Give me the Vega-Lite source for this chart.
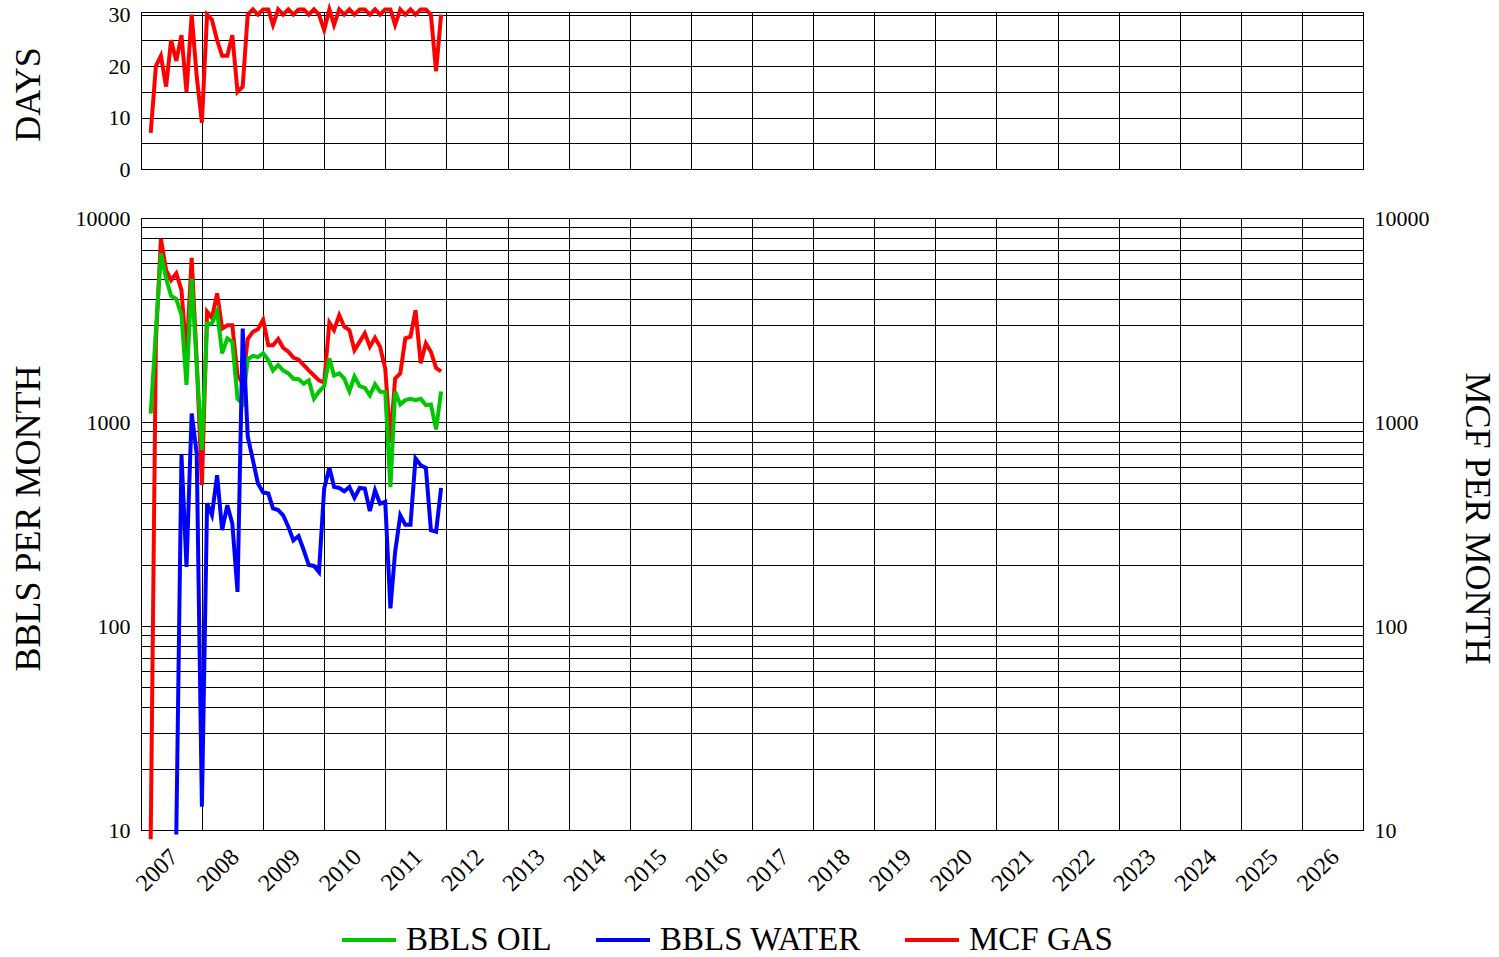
{
"$schema":"https://vega.github.io/schema/vega-lite/v6.json",
"background":"white",
"padding":{"left":9,"top":0,"right":5,"bottom":0},
"datasets":{"prod":[
{"date":"2007-02-28","days":7,"oil":1100,"gas":9},
{"date":"2007-03-31","days":20,"oil":2800,"gas":2500},
{"date":"2007-04-30","days":22,"oil":6700,"gas":7900},
{"date":"2007-05-31","days":16,"oil":5050,"gas":5550},
{"date":"2007-06-30","days":25,"oil":4150,"gas":4950},
{"date":"2007-07-31","days":21,"oil":4000,"water":9.5,"gas":5350},
{"date":"2007-08-31","days":26,"oil":3340,"water":690,"gas":4430},
{"date":"2007-09-30","days":15,"oil":1520,"water":195,"gas":2100},
{"date":"2007-10-31","days":30,"oil":5050,"water":1100,"gas":6380},
{"date":"2007-11-30","days":18,"oil":1900,"water":700,"gas":2000},
{"date":"2007-12-31","days":9,"oil":730,"water":13,"gas":490},
{"date":"2008-01-31","days":30,"oil":3040,"water":400,"gas":3470},
{"date":"2008-02-29","days":29,"oil":3040,"water":350,"gas":3240},
{"date":"2008-03-31","days":25,"oil":3490,"water":548,"gas":4270},
{"date":"2008-04-30","days":22,"oil":2170,"water":295,"gas":2870},
{"date":"2008-05-31","days":22,"oil":2570,"water":391,"gas":2980},
{"date":"2008-06-30","days":26,"oil":2470,"water":318,"gas":2980},
{"date":"2008-07-31","days":15,"oil":1300,"water":147,"gas":1690},
{"date":"2008-08-31","days":16,"oil":1230,"water":2870,"gas":1550},
{"date":"2008-09-30","days":30,"oil":2030,"water":850,"gas":2550},
{"date":"2008-10-31","days":31,"oil":2110,"water":650,"gas":2770},
{"date":"2008-11-30","days":30,"oil":2080,"water":500,"gas":2850},
{"date":"2008-12-31","days":31,"oil":2170,"water":451,"gas":3170},
{"date":"2009-01-31","days":31,"oil":2010,"water":446,"gas":2380},
{"date":"2009-02-28","days":28,"oil":1790,"water":377,"gas":2380},
{"date":"2009-03-31","days":31,"oil":1900,"water":370,"gas":2550},
{"date":"2009-04-30","days":30,"oil":1790,"water":349,"gas":2310},
{"date":"2009-05-31","days":31,"oil":1730,"water":306,"gas":2210},
{"date":"2009-06-30","days":30,"oil":1630,"water":263,"gas":2070},
{"date":"2009-07-31","days":31,"oil":1620,"water":276,"gas":2020},
{"date":"2009-08-31","days":31,"oil":1540,"water":235,"gas":1900},
{"date":"2009-09-30","days":30,"oil":1600,"water":199,"gas":1790},
{"date":"2009-10-31","days":31,"oil":1300,"water":197,"gas":1690},
{"date":"2009-11-30","days":30,"oil":1410,"water":184,"gas":1600},
{"date":"2009-12-31","days":27,"oil":1500,"water":472,"gas":1560},
{"date":"2010-01-31","days":31,"oil":2050,"water":596,"gas":3070},
{"date":"2010-02-28","days":28,"oil":1690,"water":481,"gas":2820},
{"date":"2010-03-31","days":31,"oil":1730,"water":475,"gas":3340},
{"date":"2010-04-30","days":30,"oil":1630,"water":458,"gas":2930},
{"date":"2010-05-31","days":31,"oil":1415,"water":481,"gas":2820},
{"date":"2010-06-30","days":30,"oil":1670,"water":425,"gas":2250},
{"date":"2010-07-31","days":31,"oil":1500,"water":475,"gas":2470},
{"date":"2010-08-31","days":31,"oil":1470,"water":472,"gas":2720},
{"date":"2010-09-30","days":30,"oil":1350,"water":366,"gas":2340},
{"date":"2010-10-31","days":31,"oil":1530,"water":463,"gas":2590},
{"date":"2010-11-30","days":30,"oil":1410,"water":398,"gas":2340},
{"date":"2010-12-31","days":31,"oil":1400,"water":406,"gas":1830},
{"date":"2011-01-31","days":31,"oil":480,"water":122,"gas":800},
{"date":"2011-02-28","days":28,"oil":1410,"water":230,"gas":1630},
{"date":"2011-03-31","days":31,"oil":1220,"water":349,"gas":1730},
{"date":"2011-04-30","days":30,"oil":1280,"water":314,"gas":2570},
{"date":"2011-05-31","days":31,"oil":1300,"water":314,"gas":2620},
{"date":"2011-06-30","days":30,"oil":1280,"water":663,"gas":3530},
{"date":"2011-07-31","days":31,"oil":1300,"water":614,"gas":1940},
{"date":"2011-08-31","days":31,"oil":1210,"water":596,"gas":2430},
{"date":"2011-09-30","days":30,"oil":1220,"water":295,"gas":2210},
{"date":"2011-10-31","days":19,"oil":920,"water":290,"gas":1840},
{"date":"2011-11-30","days":30,"oil":1410,"water":475,"gas":1770}
]},
"vconcat":[
{
"width":1222,"height":157,
"data":{"name":"prod"},
"mark":{"type":"line","color":"#ff0000","strokeWidth":4,"clip":false},
"encoding":{
"x":{"field":"date","type":"temporal",
"scale":{"type":"utc","domain":[{"year":2007,"month":1,"date":1,"utc":true},{"year":2027,"month":1,"date":1,"utc":true}],"nice":false},
"axis":{"title":null,"labels":false,"ticks":false,"domain":false,"grid":true,
"values":[{"year":2007,"month":1,"date":1,"utc":true},{"year":2008,"month":1,"date":1,"utc":true},{"year":2009,"month":1,"date":1,"utc":true},{"year":2010,"month":1,"date":1,"utc":true},{"year":2011,"month":1,"date":1,"utc":true},{"year":2012,"month":1,"date":1,"utc":true},{"year":2013,"month":1,"date":1,"utc":true},{"year":2014,"month":1,"date":1,"utc":true},{"year":2015,"month":1,"date":1,"utc":true},{"year":2016,"month":1,"date":1,"utc":true},{"year":2017,"month":1,"date":1,"utc":true},{"year":2018,"month":1,"date":1,"utc":true},{"year":2019,"month":1,"date":1,"utc":true},{"year":2020,"month":1,"date":1,"utc":true},{"year":2021,"month":1,"date":1,"utc":true},{"year":2022,"month":1,"date":1,"utc":true},{"year":2023,"month":1,"date":1,"utc":true},{"year":2024,"month":1,"date":1,"utc":true},{"year":2025,"month":1,"date":1,"utc":true},{"year":2026,"month":1,"date":1,"utc":true},{"year":2027,"month":1,"date":1,"utc":true}]}},
"y":{"field":"days","type":"quantitative",
"scale":{"domain":[0,30.5],"nice":false,"zero":true},
"axis":{"title":"DAYS","values":[0,5,10,15,20,25,30],"labelExpr":"datum.value % 10 == 0 ? datum.label : ''","ticks":false,"domain":false,"labelPadding":11,
"titleX":-113,"titleY":82,"titleBaseline":"middle","titleAngle":-90}}
}
},
{
"width":1222,"height":612,
"data":{"name":"prod"},
"layer":[
{"mark":{"type":"line","strokeWidth":4,"clip":false},
"encoding":{
"x":{"field":"date","type":"temporal",
"scale":{"type":"utc","domain":[{"year":2007,"month":1,"date":1,"utc":true},{"year":2027,"month":1,"date":1,"utc":true}],"nice":false},
"axis":{"title":null,"ticks":false,"domain":false,"grid":true,"labelAngle":-45,"labelAlign":"right","labelBaseline":"middle","labelOffset":33,"labelPadding":23,"labelFontSize":24,
"labelExpr":"utcyear(datum.value) < 2027 ? utcFormat(datum.value, '%Y') : ''",
"values":[{"year":2007,"month":1,"date":1,"utc":true},{"year":2008,"month":1,"date":1,"utc":true},{"year":2009,"month":1,"date":1,"utc":true},{"year":2010,"month":1,"date":1,"utc":true},{"year":2011,"month":1,"date":1,"utc":true},{"year":2012,"month":1,"date":1,"utc":true},{"year":2013,"month":1,"date":1,"utc":true},{"year":2014,"month":1,"date":1,"utc":true},{"year":2015,"month":1,"date":1,"utc":true},{"year":2016,"month":1,"date":1,"utc":true},{"year":2017,"month":1,"date":1,"utc":true},{"year":2018,"month":1,"date":1,"utc":true},{"year":2019,"month":1,"date":1,"utc":true},{"year":2020,"month":1,"date":1,"utc":true},{"year":2021,"month":1,"date":1,"utc":true},{"year":2022,"month":1,"date":1,"utc":true},{"year":2023,"month":1,"date":1,"utc":true},{"year":2024,"month":1,"date":1,"utc":true},{"year":2025,"month":1,"date":1,"utc":true},{"year":2026,"month":1,"date":1,"utc":true},{"year":2027,"month":1,"date":1,"utc":true}]}},
"y":{"field":"gas","type":"quantitative","scale":{"type":"log","domain":[10,10000],"nice":false},
"axis":{"orient":"right","title":"MCF PER MONTH","grid":false,"ticks":false,"domain":false,"labelPadding":11,
"values":[10,100,1000,10000],"format":"d","titleX":113,"titleY":300,"titleAngle":90,"titleBaseline":"middle"}},
"color":{"datum":"MCF GAS","type":"nominal",
"scale":{"domain":["BBLS OIL","BBLS WATER","MCF GAS"],"range":["#00c800","#0000ff","#ff0000"]},
"legend":{"title":null,"orient":"none","legendX":199,"legendY":899,"direction":"horizontal","symbolType":"stroke","symbolSize":2916,"symbolStrokeWidth":4,"labelFontSize":33,"labelFont":"Liberation Serif","labelColor":"#000","labelOffset":8,"columnPadding":36,"labelLimit":400}}
}},
{"mark":{"type":"line","strokeWidth":4,"clip":false},
"encoding":{
"x":{"field":"date","type":"temporal"},
"y":{"field":"oil","type":"quantitative","scale":{"type":"log","domain":[10,10000],"nice":false},
"axis":{"orient":"left","title":"BBLS PER MONTH","grid":true,"ticks":false,"domain":false,"labelPadding":11,
"values":[10,20,30,40,50,60,70,80,90,100,200,300,400,500,600,700,800,900,1000,2000,3000,4000,5000,6000,7000,8000,9000,10000],
"labelExpr":"(datum.value == 10 || datum.value == 100 || datum.value == 1000 || datum.value == 10000) ? format(datum.value, 'd') : ''",
"titleX":-113,"titleY":300,"titleAngle":-90,"titleBaseline":"middle"}},
"color":{"datum":"BBLS OIL","type":"nominal"}
}},
{"mark":{"type":"line","strokeWidth":4,"clip":false},
"encoding":{
"x":{"field":"date","type":"temporal"},
"y":{"field":"water","type":"quantitative","scale":{"type":"log","domain":[10,10000],"nice":false},"axis":null},
"color":{"datum":"BBLS WATER","type":"nominal"}
}}
],
"resolve":{"scale":{"y":"independent"}}
}
],
"spacing":25,
"config":{
"view":{"stroke":"#000","strokeWidth":1},
"axis":{"gridColor":"#000","gridOpacity":1,"gridWidth":1,"labelFont":"Liberation Serif","labelFontSize":22,"labelColor":"#000","titleFont":"Liberation Serif","titleFontSize":36,"titleFontWeight":"normal","titleColor":"#000"},
"legend":{"labelFont":"Liberation Serif"}
}
}
